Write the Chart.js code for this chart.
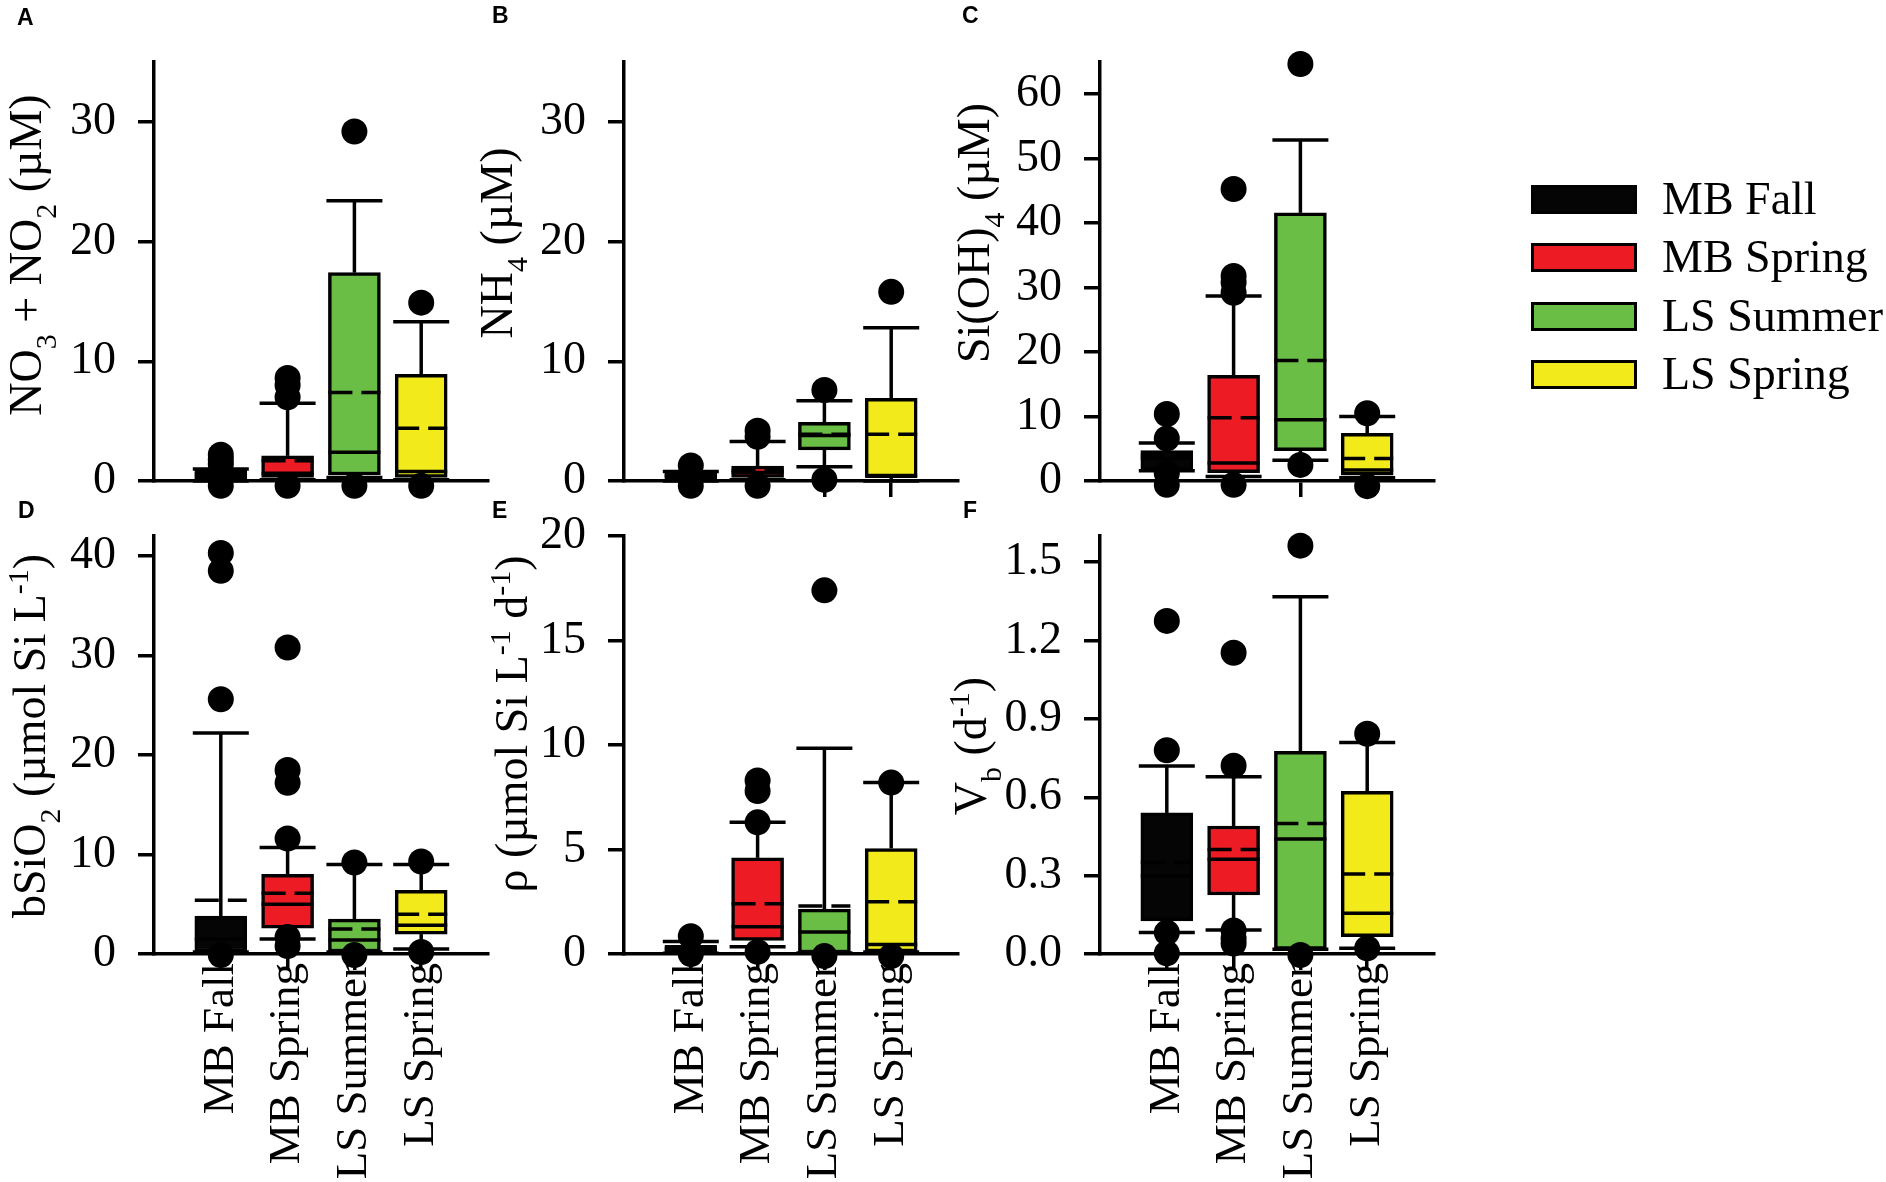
<!DOCTYPE html>
<html>
<head>
<meta charset="utf-8">
<script src="https://cdn.jsdelivr.net/npm/chart.js@4.4.1/dist/chart.umd.min.js"></script>
<style>
  body { margin: 0; background: #fff; width: 1886px; height: 1182px; position: relative; overflow: hidden; }
  canvas { position: absolute; left: 0; top: 0; }
  .tag { position: absolute; font: bold 23px "Liberation Sans"; line-height: 1; color: #000; }
  .key { position: absolute; left: 1531px; width: 100px; height: 23px; border: 3px solid #000; }
  .keytxt { position: absolute; left: 1662px; font: 46px "Liberation Serif"; line-height: 1; color: #000; white-space: nowrap; }
</style>
</head>
<body>
<canvas id="cA" width="1886" height="1182"></canvas>
<canvas id="cB" width="1886" height="1182"></canvas>
<canvas id="cC" width="1886" height="1182"></canvas>
<canvas id="cD" width="1886" height="1182"></canvas>
<canvas id="cE" width="1886" height="1182"></canvas>
<canvas id="cF" width="1886" height="1182"></canvas>

<div class="tag" style="left:17px;top:6px">A</div>
<div class="tag" style="left:492px;top:4px">B</div>
<div class="tag" style="left:962px;top:4px">C</div>
<div class="tag" style="left:18px;top:499px">D</div>
<div class="tag" style="left:492px;top:499px">E</div>
<div class="tag" style="left:963px;top:499px">F</div>

<div id="legend"></div>

<script>
const categories = ['MB Fall', 'MB Spring', 'LS Summer', 'LS Spring'];
const boxColors = ['#050505', '#ED1C24', '#6ABD45', '#F2EA1A'];

// A - NO3 + NO2 (uM)
const noxLow  = [0, 0.1, 0.3, 0.1];
const noxQ1   = [0.05, 0.3, 0.5, 0.3];
const noxMed  = [0.3, 0.65, 2.4, 0.8];
const noxMean = [0.6, 1.7, 7.4, 4.4];
const noxQ3   = [1.0, 2.1, 17.4, 8.9];
const noxHigh = [1.0, 6.5, 23.4, 13.3];
const noxOut  = [[2.2, 1.8, 1.4, -0.4], [8.6, 8.0, 7.0, -0.4], [29.2, -0.4], [14.9, -0.4]];
const noxTicks = [0, 10, 20, 30];

// B - NH4 (uM)
const nh4Low  = [0, 0.1, 1.2, 0];
const nh4Q1   = [0.1, 0.3, 2.6, 0.35];
const nh4Med  = [0.4, 0.7, 3.8, 0.4];
const nh4Mean = [0.5, 0.9, 3.9, 3.9];
const nh4Q3   = [0.8, 1.25, 4.9, 6.9];
const nh4High = [0.8, 3.3, 6.7, 12.8];
const nh4Out  = [[1.3, -0.4], [4.2, 3.7, -0.4], [7.6, 0.1], [15.8]];
const nh4Ticks = [0, 10, 20, 30];

// C - Si(OH)4 (uM)
const sioLow  = [1.6, 0.7, 3.2, 0.5];
const sioQ1   = [1.6, 1.3, 4.7, 0.9];
const sioMed  = [3.5, 2.8, 9.5, 1.7];
const sioMean = [4.0, 9.8, 18.7, 3.5];
const sioQ3   = [4.7, 16.4, 41.6, 7.4];
const sioHigh = [5.9, 28.7, 52.9, 10.0];
const sioOut  = [[10.4, 6.6, 1.2, -0.6], [45.3, 31.8, 30.8, 29.2, -0.6], [64.7, 2.5], [10.5, -0.8]];
const sioTicks = [0, 10, 20, 30, 40, 50, 60];

// D - bSiO2 (umol Si L-1)
const bsiLow  = [0.2, 1.5, 0.2, 0.5];
const bsiQ1   = [0.2, 2.6, 0.2, 2.0];
const bsiMed  = [1.5, 5.0, 1.4, 2.9];
const bsiMean = [5.4, 6.1, 2.5, 4.0];
const bsiQ3   = [3.8, 8.0, 3.5, 6.4];
const bsiHigh = [22.2, 10.7, 9.0, 9.0];
const bsiOut  = [[40.3, 38.5, 25.6, -0.1], [30.8, 18.5, 17.2, 11.6, 1.7, 0.8], [9.2, -0.1], [9.3, 0.2]];
const bsiTicks = [0, 10, 20, 30, 40];

// E - rho (umol Si L-1 d-1)
const rhoLow  = [0.03, 0.35, 0.05, 0.1];
const rhoQ1   = [0.05, 0.65, 0.05, 0.1];
const rhoMed  = [0.2, 1.3, 1.05, 0.45];
const rhoMean = [0.35, 2.4, 2.3, 2.5];
const rhoQ3   = [0.35, 4.6, 2.15, 5.05];
const rhoHigh = [0.6, 6.3, 9.85, 8.2];
const rhoOut  = [[0.85, 0.0], [8.3, 7.8, 6.3, 0.1], [17.4, -0.1], [8.2, -0.1]];
const rhoTicks = [0, 5, 10, 15, 20];

// F - Vb (d-1)
const vbLow  = [0.082, 0.092, 0.018, 0.022];
const vbQ1   = [0.127, 0.226, 0.018, 0.066];
const vbMed  = [0.3, 0.363, 0.44, 0.156];
const vbMean = [0.35, 0.40, 0.50, 0.306];
const vbQ3   = [0.54, 0.49, 0.776, 0.623];
const vbHigh = [0.72, 0.678, 1.367, 0.81];
const vbOut  = [[1.275, 0.78, 0.082, 0.003], [1.153, 0.721, 0.09, 0.06, 0.04], [1.563, -0.004], [0.843, 0.022]];
const vbTicks = [0, 0.3, 0.6, 0.9, 1.2, 1.5];

const SERIF = '"Liberation Serif"';
const PLOT_W = 334;
const Y_W = 150;
const LW = 3.5;

const panels = [
  { id: 'cA', low: noxLow, q1: noxQ1, med: noxMed, mean: noxMean, q3: noxQ3, high: noxHigh, out: noxOut,
    ticks: noxTicks, max: 35, dec: 0, axisX: 154, top: 62, bottom: 481, labels: false, titleMid: 255, titleOff: 113,
    title: [['NO'], ['3', 'sub'], [' + NO'], ['2', 'sub'], [' (µM)']] },
  { id: 'cB', low: nh4Low, q1: nh4Q1, med: nh4Med, mean: nh4Mean, q3: nh4Q3, high: nh4High, out: nh4Out,
    ticks: nh4Ticks, max: 35, dec: 0, axisX: 624, top: 62, bottom: 481, labels: false, titleMid: 243, titleOff: 112,
    title: [['NH'], ['4', 'sub'], [' (µM)']] },
  { id: 'cC', low: sioLow, q1: sioQ1, med: sioMed, mean: sioMean, q3: sioQ3, high: sioHigh, out: sioOut,
    ticks: sioTicks, max: 65, dec: 0, axisX: 1100, top: 62, bottom: 481, labels: false, titleMid: 233, titleOff: 111,
    title: [['Si(OH)'], ['4', 'sub'], [' (µM)']] },
  { id: 'cD', low: bsiLow, q1: bsiQ1, med: bsiMed, mean: bsiMean, q3: bsiQ3, high: bsiHigh, out: bsiOut,
    ticks: bsiTicks, max: 42, dec: 0, axisX: 154, top: 536, bottom: 954, labels: true, titleMid: 736, titleOff: 109,
    title: [['bSiO'], ['2', 'sub'], [' (µmol Si L'], ['-1', 'sup'], [')']] },
  { id: 'cE', low: rhoLow, q1: rhoQ1, med: rhoMed, mean: rhoMean, q3: rhoQ3, high: rhoHigh, out: rhoOut,
    ticks: rhoTicks, max: 20, dec: 0, axisX: 624, top: 536, bottom: 954, labels: true, titleMid: 724, titleOff: 97,
    title: [['ρ (µmol Si L'], ['-1', 'sup'], [' d'], ['-1', 'sup'], [')']] },
  { id: 'cF', low: vbLow, q1: vbQ1, med: vbMed, mean: vbMean, q3: vbQ3, high: vbHigh, out: vbOut,
    ticks: vbTicks, max: 1.6, dec: 1, axisX: 1100, top: 536, bottom: 954, labels: true, titleMid: 746, titleOff: 114,
    title: [['V'], ['b', 'sub'], [' (d'], ['-1', 'sup'], [')']] }
];

// whiskers, caps, median (solid) and mean (dashed) drawn over the floating bars
const boxLines = {
  id: 'boxLines',
  afterDatasetDraw(chart, args, opts) {
    if (args.meta.type !== 'bar') return;
    const { ctx, scales: { x, y } } = chart;
    const half = 26, capHalf = 28;
    ctx.save();
    ctx.strokeStyle = '#000';
    ctx.lineWidth = LW;
    ctx.lineCap = 'butt';
    const seg = (x1, y1, x2, y2, dash) => {
      ctx.setLineDash(dash || []);
      ctx.beginPath(); ctx.moveTo(x1, y1); ctx.lineTo(x2, y2); ctx.stroke();
    };
    opts.q1.forEach((_, i) => {
      const xc = x.getPixelForValue(i + 1);
      const yHi = y.getPixelForValue(opts.high[i]), yQ3 = y.getPixelForValue(opts.q3[i]);
      const yLo = y.getPixelForValue(opts.low[i]), yQ1 = y.getPixelForValue(opts.q1[i]);
      seg(xc, yHi, xc, yQ3);
      seg(xc, yQ1, xc, yLo);
      seg(xc - capHalf, yHi, xc + capHalf, yHi);
      seg(xc - capHalf, yLo, xc + capHalf, yLo);
      const yMed = y.getPixelForValue(opts.med[i]);
      seg(xc - half, yMed, xc + half, yMed);
      const yMean = y.getPixelForValue(opts.mean[i]);
      seg(xc - half, yMean, xc + half, yMean, [24, 9]);
    });
    ctx.restore();
  }
};

// y title with sub/superscripts, rotated
const richTitle = {
  id: 'richTitle',
  afterDraw(chart, args, opts) {
    const ctx = chart.ctx;
    const size = 46;
    ctx.save();
    ctx.translate(chart.chartArea.left - opts.offset, opts.mid);
    ctx.rotate(-Math.PI / 2);
    let total = 0;
    const parts = opts.segs.map(([t, k]) => {
      const fs = k ? Math.round(size * 0.65) : size;
      ctx.font = fs + 'px ' + SERIF;
      const w = ctx.measureText(t).width;
      total += w;
      return { t, k, fs, w };
    });
    let px = -total / 2;
    ctx.fillStyle = '#000';
    ctx.textAlign = 'left';
    ctx.textBaseline = 'alphabetic';
    parts.forEach(p => {
      ctx.font = p.fs + 'px ' + SERIF;
      const dy = p.k === 'sub' ? 15 : (p.k === 'sup' ? -17 : 0);
      ctx.fillText(p.t, px, dy);
      px += p.w;
    });
    ctx.restore();
  }
};

panels.forEach(p => {
  const outPts = [];
  p.out.forEach((vals, i) => vals.forEach(v => outPts.push({ x: i + 1, y: v })));
  const xH = 1182 - p.bottom;

  new Chart(document.getElementById(p.id).getContext('2d'), {
    type: 'bar',
    data: {
      datasets: [{
        type: 'scatter',
        data: outPts,
        pointRadius: 13,
        pointBackgroundColor: '#000',
        pointBorderWidth: 0,
        clip: false,
        order: 0
      }, {
        type: 'bar',
        data: categories.map((c, i) => ({ x: i + 1, y: [p.q1[i], p.q3[i]] })),
        backgroundColor: boxColors,
        borderColor: '#000',
        borderWidth: LW,
        borderSkipped: false,
        barThickness: 52,
        order: 1
      }]
    },
    options: {
      responsive: false,
      animation: false,
      devicePixelRatio: 1,
      layout: {
        padding: { left: p.axisX - Y_W, top: p.top, right: 1886 - p.axisX - PLOT_W, bottom: 0 }
      },
      scales: {
        x: {
          type: 'linear', min: 0, max: 5, offset: false,
          afterBuildTicks: s => { s.ticks = categories.map((c, i) => ({ value: i + 1 })); },
          afterFit: s => { s.height = xH; },
          grid: { display: true, offset: false, drawOnChartArea: false, drawTicks: true, tickLength: 16, color: '#000', lineWidth: LW },
          border: { display: true, color: '#000', width: LW },
          ticks: {
            display: p.labels, minRotation: 90, maxRotation: 90, padding: -7, color: '#000',
            font: { family: 'Liberation Serif', size: 45 },
            callback: v => categories[v - 1] || ''
          }
        },
        y: {
          type: 'linear', min: 0, max: p.max,
          afterBuildTicks: s => { s.ticks = p.ticks.map(v => ({ value: v })); },
          afterFit: s => { s.width = Y_W; },
          grid: { display: true, drawOnChartArea: false, drawTicks: true, tickLength: 16, color: '#000', lineWidth: LW },
          border: { display: true, color: '#000', width: LW },
          ticks: {
            padding: 22, color: '#000',
            font: { family: 'Liberation Serif', size: 46 },
            callback: v => v.toFixed(p.dec)
          }
        }
      },
      plugins: {
        legend: { display: false },
        tooltip: { enabled: false },
        boxLines: { low: p.low, q1: p.q1, med: p.med, mean: p.mean, q3: p.q3, high: p.high },
        richTitle: { segs: p.title, offset: p.titleOff, mid: p.titleMid }
      }
    },
    plugins: [boxLines, richTitle]
  });
});

// legend
const legend = document.getElementById('legend');
const rowMid = [199, 257, 316, 374];
categories.forEach((c, i) => {
  const k = document.createElement('div');
  k.className = 'key';
  k.style.top = (rowMid[i] - 14.5) + 'px';
  k.style.background = boxColors[i];
  legend.appendChild(k);
  const t = document.createElement('div');
  t.className = 'keytxt';
  t.style.top = (rowMid[i] + 15 - 38.5) + 'px';
  t.textContent = c;
  legend.appendChild(t);
});
</script>
</body>
</html>
